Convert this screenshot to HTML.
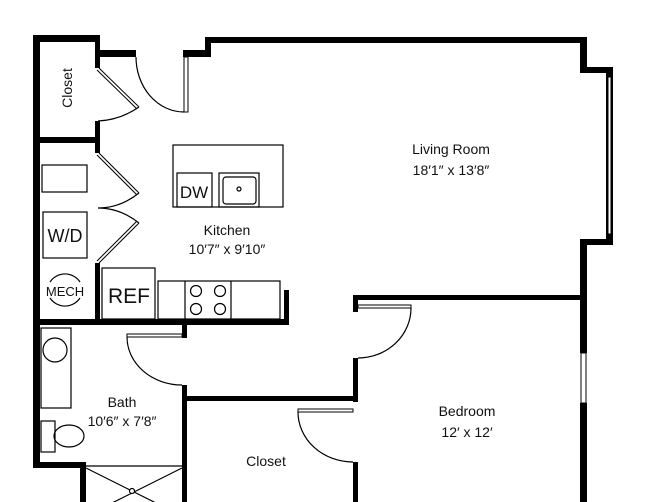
<!DOCTYPE html>
<html><head><meta charset="utf-8"><style>
html,body{margin:0;padding:0;background:#fff;}
svg{display:block}
text{font-family:"Liberation Sans",sans-serif;fill:#111;}
</style></head><body>
<svg width="650" height="502" viewBox="0 0 650 502" xmlns="http://www.w3.org/2000/svg">
<g fill="#000">
<rect x="33" y="35" width="7" height="433"/>
<rect x="33" y="35" width="67" height="7"/>
<rect x="95" y="35" width="5" height="33"/>
<rect x="95" y="50" width="41" height="7"/>
<rect x="183" y="50" width="28" height="7"/>
<rect x="205" y="37" width="6" height="20"/>
<rect x="205" y="37" width="382" height="6"/>
<rect x="580" y="37" width="7" height="36"/>
<rect x="580" y="67" width="33" height="6"/>
<rect x="606" y="67" width="7" height="178"/>
<rect x="580" y="239" width="33" height="6"/>
<rect x="580" y="239" width="7" height="114"/>
<rect x="580" y="403" width="7" height="99"/>
<rect x="33" y="137" width="67" height="6"/>
<rect x="95" y="121" width="5" height="32"/>
<rect x="95" y="263" width="5" height="60"/>
<rect x="33" y="319" width="256" height="6"/>
<rect x="284" y="290" width="5" height="35"/>
<rect x="182" y="319" width="5" height="19"/>
<rect x="182" y="385" width="5" height="117"/>
<rect x="182" y="396" width="176" height="5"/>
<rect x="33" y="462" width="53" height="6"/>
<rect x="80" y="462" width="6" height="40"/>
<rect x="353" y="295" width="234" height="5"/>
<rect x="353" y="295" width="5" height="17"/>
<rect x="353" y="358" width="5" height="44"/>
<rect x="353" y="462" width="5" height="40"/>
</g>
<g fill="#fff" stroke="#000" stroke-width="1">
<rect x="608" y="77" width="3" height="157"/>
<rect x="581" y="353" width="5" height="50"/>
<rect x="184" y="57" width="4" height="55"/>
<rect x="358" y="305" width="53" height="3"/>
<rect x="298" y="409" width="55" height="3"/>
<rect x="127" y="334" width="55" height="3"/>
</g>
<g fill="none" stroke="#000" stroke-width="1.2">
<path d="M136 57 A48 55 0 0 0 184 112"/>
<path d="M411 308 A53 50 0 0 1 358 358"/>
<path d="M298 412 A55 50 0 0 0 353 462"/>
<path d="M127 337 A55 48 0 0 0 182 385"/>
<path d="M99 68 L139 107 M97 70 L137 109" stroke-width="1"/>
<path d="M139 107 Q120 120 98 121"/>
<path d="M99 153 L139 193 M97 155 L137 195" stroke-width="1"/>
<path d="M139 193 Q120 208 98 208 Q120 208 139 223"/>
<path d="M139 223 L99 263 M137 221 L97 261" stroke-width="1"/>
<rect x="42" y="165" width="45" height="27"/>
<rect x="43" y="212" width="44" height="46"/>
<path d="M50 282 A18 18 0 0 1 80 282 M50 298 A18 18 0 0 0 80 298"/>
<rect x="102" y="268" width="53" height="51"/>
<rect x="158" y="281" width="122" height="38"/>
<line x1="185" y1="281" x2="185" y2="319"/>
<line x1="231" y1="281" x2="231" y2="319"/>
<circle cx="196" cy="291" r="5.5"/><circle cx="220" cy="291" r="5.5"/>
<circle cx="196" cy="309" r="5.5"/><circle cx="220" cy="309" r="5.5"/>
<rect x="173" y="145" width="110" height="62"/>
<rect x="177" y="173" width="35" height="34"/>
<rect x="219" y="173" width="40" height="34"/>
<rect x="223" y="177" width="33" height="27" rx="3"/>
<circle cx="239" cy="189" r="2"/>
<rect x="41" y="328" width="30" height="80"/>
<circle cx="55" cy="350" r="12"/>
<rect x="41" y="421" width="14" height="31"/>
<ellipse cx="69" cy="436" rx="15" ry="11"/>
<line x1="86" y1="466" x2="182" y2="466"/>
<line x1="86" y1="468" x2="182" y2="516"/>
<line x1="182" y1="468" x2="86" y2="516"/>
<circle cx="132" cy="491" r="2.5" fill="#fff"/>
</g>
<text x="72" y="88" text-anchor="middle" transform="rotate(-90 72 88)" style="font-size:14px">Closet</text>
<text x="65" y="242" text-anchor="middle" style="font-size:18px">W/D</text>
<text x="65" y="296" text-anchor="middle" style="font-size:13px">MECH</text>
<text x="129" y="303" text-anchor="middle" style="font-size:21px">REF</text>
<text x="194" y="198" text-anchor="middle" style="font-size:17px">DW</text>
<text x="227" y="235" text-anchor="middle" style="font-size:14px">Kitchen</text>
<text x="227" y="254" text-anchor="middle" style="font-size:14px">10′7″ x 9′10″</text>
<text x="451" y="154" text-anchor="middle" style="font-size:14px">Living Room</text>
<text x="451" y="175" text-anchor="middle" style="font-size:14px">18′1″ x 13′8″</text>
<text x="122" y="407" text-anchor="middle" style="font-size:14px">Bath</text>
<text x="122" y="426" text-anchor="middle" style="font-size:14px">10′6″ x 7′8″</text>
<text x="467" y="416" text-anchor="middle" style="font-size:14px">Bedroom</text>
<text x="467" y="437" text-anchor="middle" style="font-size:14px">12′ x 12′</text>
<text x="266" y="466" text-anchor="middle" style="font-size:14px">Closet</text>
</svg>
</body></html>
